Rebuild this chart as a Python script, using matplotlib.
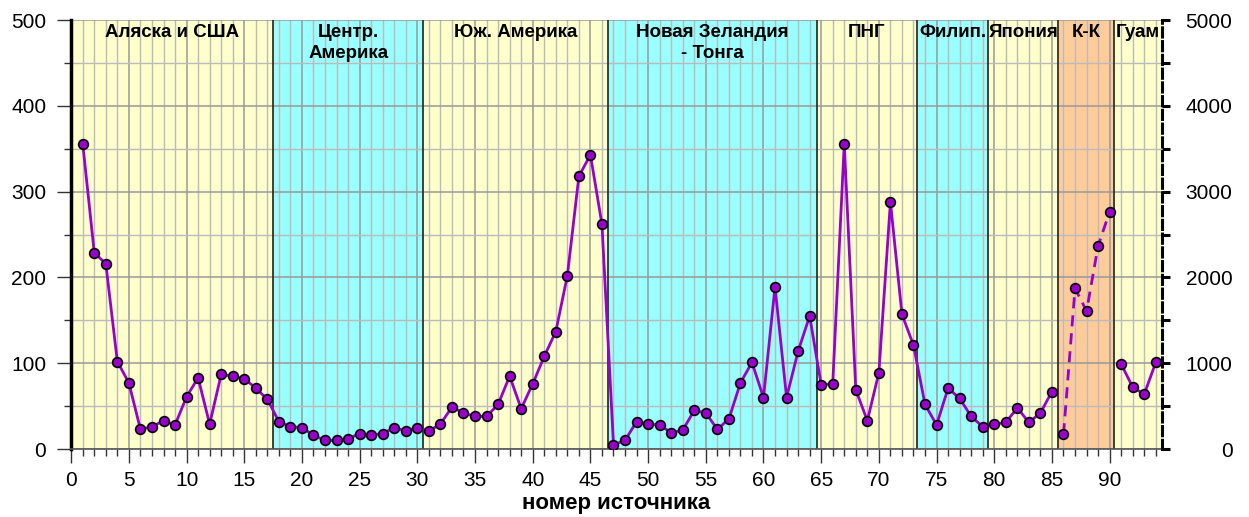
import matplotlib
matplotlib.use("Agg")
import matplotlib.pyplot as plt
import numpy as np
from matplotlib.ticker import MultipleLocator

plt.rcParams["font.family"] = ["Liberation Sans", "DejaVu Sans"]

# ---------------------------------------------------------------------------
# data
# ---------------------------------------------------------------------------
source_no = np.arange(1, 95)

# left axis series; sources 86-90 belong to the dashed right-axis series
main_values = [
    356, 229, 216, 102, 77, 23, 26, 33, 28, 61,
    83, 29, 87, 85, 82, 71, 58, 32, 26, 25,
    16, 10, 10, 12, 18, 16, 18, 25, 21, 25,
    21, 29, 49, 42, 38, 38, 52, 85, 47, 76,
    108, 137, 202, 318, 343, 262, 5, 10, 32, 29,
    28, 19, 22, 45, 42, 23, 35, 77, 101, 60,
    189, 60, 114, 155, 75, 76, 356, 69, 33, 89,
    288, 157, 121, 52, 28, 71, 59, 38, 26, 29,
    31, 48, 31, 42, 67,
    None, None, None, None, None,
    99, 72, 64, 101,
]

kk_source = [86, 87, 88, 89, 90]
kk_values = [171, 1873, 1608, 2370, 2766]  # right axis

region_names = [
    "Аляска и США", "Центр.\nАмерика", "Юж. Америка", "Новая Зеландия\n- Тонга",
    "ПНГ", "Филип.", "Япония", "К-К", "Гуам",
]
region_edges = [0, 17.5, 30.5, 46.5, 64.6, 73.3, 79.5, 85.5, 90.4, 94.5]
region_colors = [
    "#FFFFCC", "#99FFFF", "#FFFFCC", "#99FFFF", "#FFFFCC",
    "#99FFFF", "#FFFFCC", "#FFCC99", "#FFFFCC",
]

LINE = "#9900CC"

fig = plt.figure(figsize=(12.49, 5.17), dpi=100)
ax = fig.add_axes([0.057, 0.1315, 0.873, 0.8295])

# region bands
for i, name in enumerate(region_names):
    x0, x1 = region_edges[i], region_edges[i + 1]
    ax.axvspan(x0, x1, color=region_colors[i], zorder=0, lw=0)
    ax.text((x0 + x1) / 2, 496, name, ha="center", va="top",
            fontsize=13.5, fontweight="bold", linespacing=1.35, zorder=5)
for e in region_edges[1:-1]:
    ax.axvline(e, color="#303030", lw=1.3, zorder=1)

# grid
ax.set_axisbelow(True)
ax.xaxis.set_major_locator(MultipleLocator(5))
ax.xaxis.set_minor_locator(MultipleLocator(1))
ax.yaxis.set_major_locator(MultipleLocator(100))
ax.yaxis.set_minor_locator(MultipleLocator(50))
ax.grid(which="major", color="#999999", lw=1.1)
ax.grid(which="minor", color="#BBBBBB", lw=1.0)

y_main = np.array([np.nan if v is None else v for v in main_values], dtype=float)
ax.plot(source_no, y_main, color=LINE, lw=2, marker="o", ms=7,
        mfc=LINE, mec="black", mew=1.2, zorder=4)

ax.set_xlim(0, 94.5)
ax.set_ylim(0, 500)

for s in ["top", "right"]:
    ax.spines[s].set_visible(False)
ax.spines["left"].set_linewidth(2.5)
ax.spines["left"].set_color("black")
ax.spines["bottom"].set_color("#555555")
ax.spines["bottom"].set_linewidth(1.2)

ax.tick_params(axis="both", which="major", labelsize=15, length=10, width=1.0,
               color="#333333")
ax.tick_params(axis="x", which="major", pad=6)
ax.tick_params(axis="y", which="major", pad=8)
ax.tick_params(axis="both", which="minor", length=5, width=1.0, color="#333333")
ax.set_xlabel("номер источника", fontsize=16, fontweight="bold", labelpad=2)

# right axis: dashed K-K series
ax2 = ax.twinx()
ax2.set_position(ax.get_position())
ax2.plot(kk_source, kk_values, color=LINE, lw=2, ls=(0, (4, 2.5)), marker="o",
         ms=7, mfc=LINE, mec="black", mew=1.2, zorder=4)
ax2.set_ylim(0, 5000)
ax2.set_xlim(0, 94.5)
for s in ["top", "left", "bottom"]:
    ax2.spines[s].set_visible(False)
ax2.spines["right"].set_linestyle((0, (3, 1.5)))
ax2.spines["right"].set_linewidth(2.2)
ax2.yaxis.set_major_locator(MultipleLocator(1000))
ax2.yaxis.set_minor_locator(MultipleLocator(500))
ax2.tick_params(axis="y", which="major", length=6, width=2.2, labelsize=15, pad=45)
ax2.tick_params(axis="y", which="minor", length=6, width=2.2)
for lbl in ax2.get_yticklabels():
    lbl.set_horizontalalignment("right")

fig.savefig("out.png", dpi=100)
